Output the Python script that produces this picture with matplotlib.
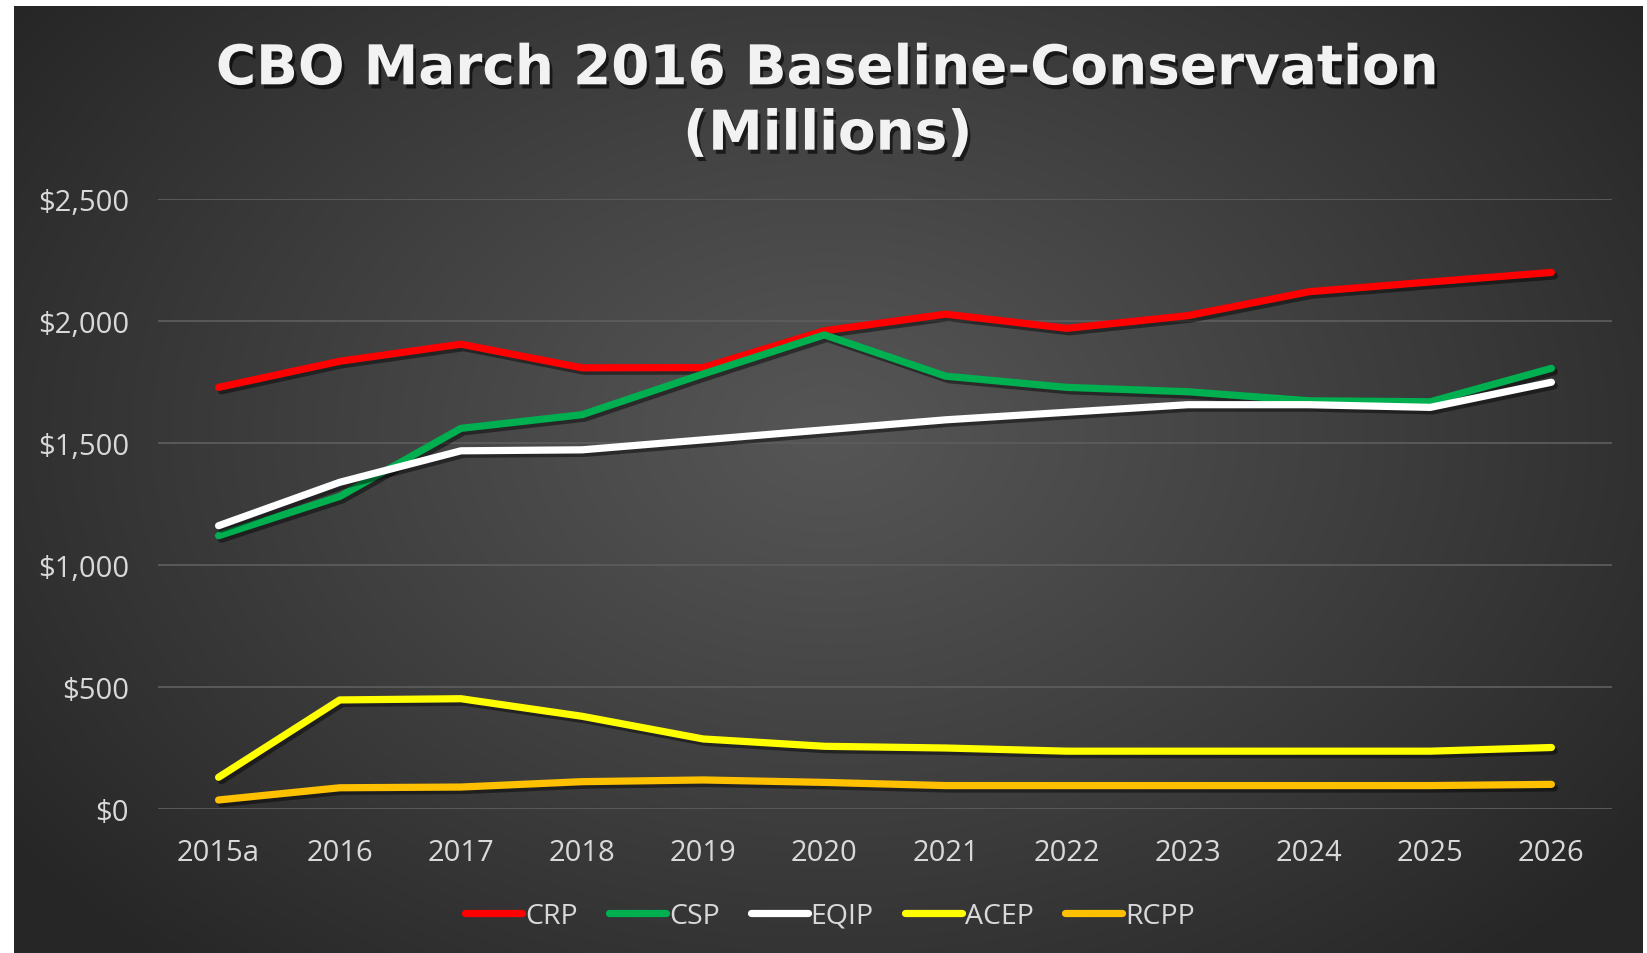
import matplotlib
matplotlib.use("Agg")
import matplotlib.pyplot as plt
import matplotlib.patheffects as pe
import numpy as np

years = ["2015a", "2016", "2017", "2018", "2019", "2020", "2021", "2022", "2023", "2024", "2025", "2026"]
crp = [1728, 1835, 1905, 1808, 1809, 1960, 2028, 1970, 2022, 2120, 2160, 2199]
csp = [1120, 1281, 1560, 1616, 1783, 1943, 1774, 1728, 1710, 1673, 1669, 1806]
eqip = [1161, 1339, 1468, 1472, 1513, 1554, 1595, 1626, 1657, 1657, 1646, 1749]
acep = [130, 447, 452, 380, 287, 257, 250, 237, 237, 237, 237, 252]
rcpp = [37, 87, 90, 112, 119, 109, 96, 96, 96, 96, 96, 101]
yticks = [0, 500, 1000, 1500, 2000, 2500]

series = [("CRP", crp, "#FF0000"), ("CSP", csp, "#00B050"), ("EQIP", eqip, "#FFFFFF"),
          ("ACEP", acep, "#FFFF00"), ("RCPP", rcpp, "#FFC000")]

W, H = 1647, 954
fig = plt.figure(figsize=(W / 100, H / 100), dpi=100)
fig.patch.set_facecolor("white")

# dark panel with radial gradient
bg = fig.add_axes([14 / W, 0, (1642 - 14) / W, (H - 7) / H])
bg.set_axis_off()
ny, nx = 400, 700
yy, xx = np.mgrid[0:ny, 0:nx]
cx, cy = 0.5 * nx, 0.45 * ny
r = np.sqrt(((xx - cx) / (0.62 * nx)) ** 2 + ((yy - cy) / (0.75 * ny)) ** 2)
r = np.clip(r, 0, 1)
v = 0.335 - (0.335 - 0.15) * r ** 1.1
img = np.dstack([v, v, v])
bg.imshow(img, extent=[0, 1, 0, 1], aspect="auto", interpolation="bicubic")
bg.set_xlim(0, 1)
bg.set_ylim(0, 1)

ax = fig.add_axes([158 / W, 144 / H, (1612 - 158) / W, (810 - 200) / H])
ax.patch.set_alpha(0)
x = np.arange(len(years))
shadow = [pe.SimpleLineShadow(offset=(2, -2.5), shadow_color="black", alpha=0.45), pe.Normal()]
for name, vals, col in series:
    ax.plot(x, vals, color=col, lw=5.2, solid_capstyle="round", solid_joinstyle="round",
            label=name, path_effects=shadow)

ax.set_xlim(-0.5, len(years) - 0.5)
ax.set_ylim(0, 2500)
ax.set_yticks(yticks)
ax.set_yticklabels(["${:,}".format(t) for t in yticks])
ax.set_xticks(x)
ax.set_xticklabels(years)
ax.grid(axis="y", color="#5c5c5c", lw=1.3)
ax.set_axisbelow(True)
for s in ax.spines.values():
    s.set_visible(False)
ax.tick_params(length=0, colors="#d9d9d9", labelsize=21)
ax.tick_params(axis="y", pad=21)
ax.tick_params(axis="x", pad=21)
for lab in ax.get_xticklabels() + ax.get_yticklabels():
    lab.set_fontfamily("Open Sans")

leg = ax.legend(loc="center", bbox_to_anchor=(830 / W, 1 - 917 / H), bbox_transform=fig.transFigure,
                ncol=5, frameon=False, handlelength=2.0, handletextpad=0.1,
                columnspacing=1.1, prop={"family": "Open Sans", "size": 20.5})
for t in leg.get_texts():
    t.set_color("#d9d9d9")
for h in leg.get_lines():
    h.set_path_effects([])
    h.set_linewidth(5.2)

fig.text(828 / W, 1 - 103 / H, "CBO March 2016 Baseline-Conservation\n(Millions)",
         ha="center", va="center", color="#f2f2f2", fontsize=39.5, fontweight="bold",
         family="DejaVu Sans", linespacing=1.27,
         path_effects=[pe.withSimplePatchShadow(offset=(2, -3), shadow_rgbFace="black", alpha=0.6)])

fig.savefig("out.png", dpi=100, facecolor=fig.get_facecolor())
